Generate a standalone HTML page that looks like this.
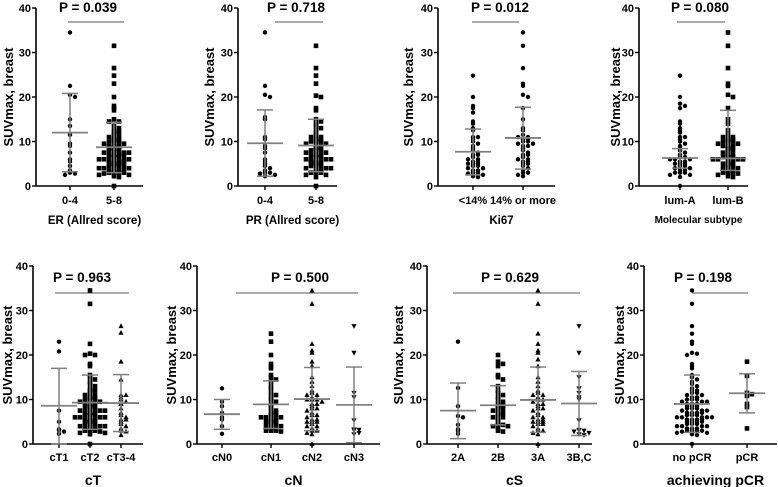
<!DOCTYPE html>
<html><head><meta charset="utf-8">
<style>
html,body{margin:0;padding:0;background:#fff;}
svg{display:block;font-family:"Liberation Sans",Arial,sans-serif;font-weight:bold;}
</style></head>
<body>
<svg id="chart" width="778" height="487" viewBox="0 0 778 487" xmlns="http://www.w3.org/2000/svg"></svg>
<script>
// ---- data ----
const erLow = [34.5,22.5,20.5,20,15,13.5,11.5,9.5,9,7.5,6,5.5,4.5,3.5,3,2.8,2.5];
const erHigh = [31.5,26.5,24.8,23,20,18,17.5,17,15,14.5,14.5,13.5,13,12.5,12,12,11.5,11,11,10.5,10.5,10,10,10,9.5,9.5,9,9,9,8.5,8.5,8.5,8,8,8,7.5,7.5,7.5,7,7,7,7,6.5,6.5,6.5,6,6,6,6,5.5,5.5,5.5,5.5,5,5,5,5,4.5,4.5,4.5,4,4,4,4,3.5,3.5,3.5,3,3,3,3,2.8,2.5,2.5,2.2,2,0];
const prLow = [34.5,22.5,20.5,20,15.5,15,11,10.5,9,8.5,7.5,6,5.5,5,4.5,4,3.5,3,3,2.8,2.5,2.2];
const prHigh = [31.5,26.5,24.8,23,20.3,20,17.5,17,15,14.5,14,13.5,13,12.5,12,11.5,11,11,10.5,10.5,10,10,10,9.5,9.5,9,9,8.5,8.5,8,8,8,7.5,7.5,7,7,7,6.5,6.5,6,6,6,6,5.5,5.5,5.5,5,5,5,4.5,4.5,4.5,4,4,4,3.5,3.5,3,3,3,2.5,2.5,2,0];
const kiLow = [24.8,20,18,17.5,16.5,14.5,14,13,12.5,11,11,10.5,10,9.5,9,8.5,8,7.5,7,7,6.5,6,6,5.5,5.5,5,5,5,4.5,4.5,4,4,3.5,3.5,3,3,2.8,2.5,2.2,2];
const kiHigh = [34.5,31.5,26.5,23,22.5,20.5,20,17.5,15,13,12.5,11.5,11,11,10.5,10.5,10,10,9.5,9.5,9,9,8.5,8,7.5,7,7,6.5,6,6,5.5,5.5,5,5,4.5,4,3.5,3,3,2.5,2.2];
const lumA = [24.8,20,18.5,18,17.5,14.5,14,13,12.5,12,11,11,10.5,10,9.5,9,8.5,8,7.5,7,6.5,6.5,6,6,6,5.5,5.5,5,5,5,4.5,4.5,4,4,3.5,3.5,3,3,3,2.5,2.5,2,0];
const lumB = [34.5,31.5,26.5,23,22.5,20.5,20,17.5,15,14,12.5,11.5,11,11,10.5,10.5,10,10,10,9.5,9.5,9,9,9,8.5,8.5,8,8,7.5,7,7,6.5,6.5,6.5,6,6,6,6,5.5,5.5,5,5,5,4.5,4.5,4,4,3.5,3.5,3,3,3,2.8,2.5,2.2,2];
const cT1 = [23,20.8,7.5,5,3.3,3.1,2.8,2.3];
const cT2 = [34.5,31.5,22.5,20.3,20,20,18,17.5,15.5,15,14.5,14,13.5,13,12.5,12,12,11.5,11,11,10.5,10.5,10,10,10,9.5,9.5,9,9,9,8.5,8.5,8,8,8,7.5,7.5,7.5,7,7,7,6.5,6.5,6.5,6,6,6,6,5.5,5.5,5.5,5,5,5,4.5,4.5,4.5,4,4,4,3.5,3.5,3.5,3,3,3,2.8,2.5,2.5,2.2,0];
const cT34 = [26.5,25,18.5,14.5,11,11,10.5,10,9.5,9,8,7,6.5,6,5.5,5.5,5,4.5,4,3.5,3,2.8,2];
const cN0 = [12.5,9.5,8.5,7,6,5.5,4,2.3];
const cN1 = [24.8,23,20,18,17.5,17,15.5,15,14.5,14,13,12.5,11.5,11,10.5,10,9.5,9,8.5,8,7.5,7,7,6.5,6.5,6,6,6,5.5,5.5,5,5,5,4.5,4.5,4,4,3.5,3.5,3,3,3,2.8];
const cN2 = [34.5,31.5,22.5,21,20.5,18.5,17.5,15,14,13,12,11.5,11,11,10.5,10,10,10,9.5,9,9,8.5,8,8,7.5,7,6.5,6.5,6,5.5,5.5,5,5,5,4.5,4,4,3.5,3,3,2.5,2.2,0];
const cN3 = [26.5,20.5,11.5,10.5,5.3,3.3,3.2,3.1,2.5,2.2];
const s2A = [23,12.6,8.5,6.3,6,4.3,3.3,3,2.3];
const s2B = [20,18.5,18,17.5,15.5,15,14.5,13,12,11.5,11,10.5,10,9.5,9,9,8.5,8.5,8,8,7.5,7,7,6.5,6,6,5.5,5,4.5,4.3,4,4,3.5,3,2.8];
const s3A = [34.5,31.5,24.8,22.5,21,20.5,19,17.5,15,14,13,12,11.5,11,11,10.5,10,10,9.5,9,9,8.5,8,8,7.5,7,6.5,6,6,5.5,5.5,5,5,5,4.5,4.5,4,3.5,3,3,2.5,2.2,0];
const s3BC = [26.5,20.5,15,12.5,11.5,10.5,10,5.3,3.2,3.1,3,2.8,2.5,2.2,2];
const noPCR = [34.5,31.5,26.5,24.8,23,22.5,20.5,20.3,20,18,17.5,17,15.5,15,14.5,14,13.5,13,12.5,12,12,11.5,11.5,11,11,10.5,10.5,10,10,10,9.5,9.5,9.5,9,9,9,8.5,8.5,8.5,8,8,8,7.5,7.5,7.5,7,7,7,7,6.5,6.5,6.5,6,6,6,6,6,5.5,5.5,5.5,5.5,5,5,5,5,4.5,4.5,4.5,4,4,4,4,3.5,3.5,3.5,3,3,3,3,2.8,2.5,2.5,2.2,2,0];
const pCR = [18.5,15.3,11.5,11.2,10.8,9,8.3,3.5];
// summary lines (mean and ±SD)
const means = [[12,8.7],[9.6,9.1],[7.7,10.8],[6.3,6.2],[8.6,9.3,9.2],[6.7,8.9,10.1,8.8],[7.5,8.7,9.9,9.1],[9.0,11.4]];
const lows  = [[3.2,3],[2.2,3.2],[2.5,3.8],[4,3.5],[0,3.3,2.8],[3.3,3.5,3,0.3],[1.2,4.3,2.6,1.9],[2.6,7.0]];
const highs = [[20.8,14.3],[17.1,15],[12.8,17.7],[8.4,17],[17,15.5,15.6],[10,14.2,17.2,17.3],[13.7,13.1,17.3,16.3],[15.5,15.8]];
const pValues = ["P = 0.039","P = 0.718","P = 0.012","P = 0.080","P = 0.963","P = 0.500","P = 0.629","P = 0.198"];
const categories = [["0-4","5-8"],["0-4","5-8"],["<14%","14% or more"],["lum-A","lum-B"],["cT1","cT2","cT3-4"],["cN0","cN1","cN2","cN3"],["2A","2B","3A","3B,C"],["no pCR","pCR"]];
const xTitles = ["ER (Allred score)","PR (Allred score)","Ki67","Molecular subtype","cT","cN","cS","achieving pCR"];
const groups = [[erLow,erHigh],[prLow,prHigh],[kiLow,kiHigh],[lumA,lumB],[cT1,cT2,cT34],[cN0,cN1,cN2,cN3],[s2A,s2B,s3A,s3BC],[noPCR,pCR]];
const yTicks = [0,10,20,30,40];

// ---- layout ----
const layout = [
 {ax:36,xe:143,top:8,bot:186,title:13,cx:[70,114],bar:[68,124],barY:22,pX:88,pY:12,catY:204,xtY:224,xtSize:11.5,shapes:['c','s']},
 {ax:238,xe:337,top:8,bot:186,title:214,cx:[265,316],bar:[275,323],barY:22,pX:296,pY:12,catY:204,xtY:224,xtSize:11.5,shapes:['c','s']},
 {ax:438,xe:555,top:8,bot:186,title:413,cx:[473,523],bar:[472,519],barY:22,pX:500,pY:12,catY:204,xtY:224,xtSize:11.5,shapes:['c','c']},
 {ax:639,xe:748,top:8,bot:186,title:620,cx:[680,728],bar:[677,725],barY:22,pX:700,pY:12,catY:204,xtY:223,xtSize:10,shapes:['c','s']},
 {ax:33,xe:143,top:266,bot:444,title:12,cx:[59,90,121],bar:[55,129],barY:293,pX:82,pY:282,catY:461,xtY:485,xtSize:14,shapes:['c','s','t']},
 {ax:197,xe:380,top:266,bot:444,title:176,cx:[222,271,312,354],bar:[236,358],barY:293,pX:300,pY:282,catY:461,xtY:485,xtSize:14,shapes:['c','s','t','v']},
 {ax:427,xe:592,top:266,bot:444,title:403,cx:[458,498,538,579],bar:[453,580],barY:293,pX:510,pY:282,catY:461,xtY:485,xtSize:14,shapes:['c','s','t','v']},
 {ax:644,xe:777,top:266,bot:444,title:624,cx:[692,747],bar:[692,748],barY:293,pX:703,pY:282,catY:461,xtY:485,xtSize:14,shapes:['c','s']}
];
const NS="http://www.w3.org/2000/svg";
const svg=document.getElementById('chart');
function mk(tag,attrs,parent){const e=document.createElementNS(NS,tag);for(const k in attrs)e.setAttribute(k,attrs[k]);(parent||svg).appendChild(e);return e;}

layout.forEach((L,pi)=>{
  const g=mk('g',{});
  
  
  const yScale=v=>L.bot-(v/40)*(L.bot-L.top);
  const ya=mk('line',{x1:L.ax,y1:L.top,x2:L.ax,y2:L.bot,stroke:'#000','stroke-width':1.6},g);
  
  
  const xa=mk('line',{x1:L.ax,y1:L.bot,x2:L.xe,y2:L.bot,stroke:'#000','stroke-width':1.6},g);
  
  
  yTicks.forEach(t=>{
    const y=yScale(t);
    mk('line',{x1:L.ax-4,y1:y,x2:L.ax,y2:y,stroke:'#000','stroke-width':1.4},g);
    const tl=mk('text',{x:L.ax-5,y:y+4,'font-size':11,'text-anchor':'end'},g);
    tl.textContent=t;
    
    
  });
  const yt=mk('text',{x:0,y:0,'font-size':13,'text-anchor':'middle',transform:`translate(${L.title},${(L.top+L.bot)/2}) rotate(-90)`},g);
  yt.textContent='SUVmax, breast';
  
  
  categories[pi].forEach((c,ci)=>{
    const x=L.cx[ci];
    mk('line',{x1:x,y1:L.bot,x2:x,y2:L.bot+4,stroke:'#000','stroke-width':1.4},g);
    const cl=mk('text',{x:x,y:L.catY,'font-size':11,'text-anchor':'middle'},g);
    cl.textContent=c;
    
    
  });
  const xt=mk('text',{x:(L.ax+L.xe)/2+5,y:L.xtY,'font-size':L.xtSize,'text-anchor':'middle'},g);
  xt.textContent=xTitles[pi];
  
  
  const pb=mk('line',{x1:L.bar[0],y1:L.barY,x2:L.bar[1],y2:L.barY,stroke:'#777','stroke-width':1.2},g);
  
  
  const pt=mk('text',{x:L.pX,y:L.pY,'font-size':13.5,'text-anchor':'middle'},g);
  pt.textContent=pValues[pi];
  
  
  groups[pi].forEach((vals,gi)=>{
    const cx=L.cx[gi];
    const shape=L.shapes[gi];
    const bins={};
    const sorted=vals.slice().sort((a,b)=>b-a);
    sorted.forEach(v=>{
      const b=Math.round(v/0.7);
      const k=bins[b]||0;bins[b]=k+1;
      const off=k===0?0:(k%2?1:-1)*Math.ceil(k/2)*5;
      const x=cx+off,y=yScale(v);
      let p;
      if(shape==='c')p=mk('circle',{cx:x,cy:y,r:2.2,fill:'#000'},g);
      else if(shape==='s')p=mk('rect',{x:x-2.3,y:y-2.3,width:4.6,height:4.6,fill:'#000'},g);
      else if(shape==='t')p=mk('polygon',{points:`${x},${y-2.8} ${x-2.6},${y+2} ${x+2.6},${y+2}`,fill:'#000'},g);
      else p=mk('polygon',{points:`${x},${y+2.8} ${x-2.6},${y-2} ${x+2.6},${y-2}`,fill:'#000'},g);
      
      
    });
    const eb=mk('g',{stroke:'#808080','stroke-width':1.5},g);
    
    
    const yl=yScale(lows[pi][gi]),yh=yScale(highs[pi][gi]),ym=yScale(means[pi][gi]);
    mk('line',{x1:cx,y1:yl,x2:cx,y2:yh},eb);
    mk('line',{x1:cx-8,y1:yl,x2:cx+8,y2:yl},eb);
    mk('line',{x1:cx-8,y1:yh,x2:cx+8,y2:yh},eb);
    mk('line',{x1:cx-18,y1:ym,x2:cx+18,y2:ym,'stroke-width':1.8},eb);
  });
});
</script>
</body></html>
